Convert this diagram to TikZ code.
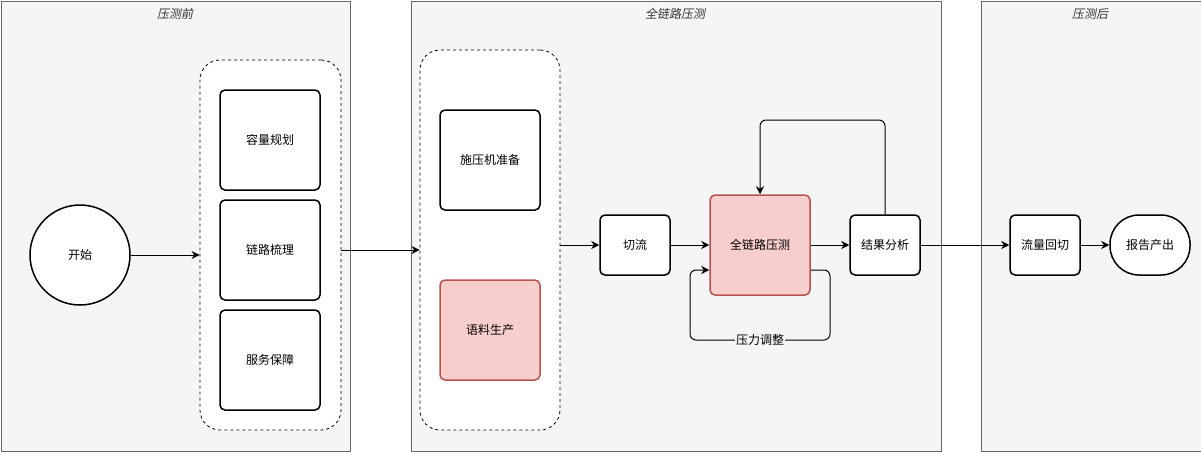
\documentclass[tikz,border=0pt]{standalone}
\usepackage{fontspec}
\setmainfont{Noto Sans CJK SC}
\newfontfamily\titlefont[FakeSlant=0.2]{Noto Sans CJK SC}
\usepackage{xcolor}
\usepackage{tikz}
\usetikzlibrary{arrows.meta,positioning}
\definecolor{lanebg}{HTML}{F5F5F5}
\definecolor{laneline}{HTML}{666666}
\definecolor{titlegray}{HTML}{333333}
\definecolor{redfill}{HTML}{F8CECC}
\definecolor{redline}{HTML}{B85450}
\tikzset{
  ar/.style={-{Stealth[length=8pt,width=8pt,inset=2.5pt]},line width=1pt},
  lane/.style={draw=laneline,fill=lanebg,line width=0.9pt,anchor=north west,inner sep=0pt},
  lanetitle/.style={font=\titlefont\fontsize{12}{14}\selectfont,text=titlegray},
  grp/.style={draw,fill=white,line width=0.8pt,dash pattern=on 3pt off 3pt,rounded corners=20pt,inner sep=0pt},
  task/.style={draw,line width=1.5pt,rounded corners=5pt,fill=white,align=center,inner sep=0pt,font=\fontsize{12}{14}\selectfont},
  redtask/.style={task,draw=redline,fill=redfill}
}

\begin{document}
\begin{tikzpicture}[x=1pt,y=-1pt]
\useasboundingbox (0,0) rectangle (1201,451);
% lanes
\node[lane,minimum width=349.5pt,minimum height=450pt] (pre) at (0.5,0.5) {};
\node[lane,minimum width=530pt,minimum height=450pt] (full) at (410.5,0.5) {};
\node[lane,minimum width=220pt,minimum height=450pt] (post) at (980.5,0.5) {};
\node[lanetitle] (preT) at (175,14) {压测前};
\node[lanetitle] (fullT) at (675,14) {全链路压测};
\node[lanetitle] (postT) at (1090,14) {压测后};

% before
\node[task,circle,minimum size=100pt] (start) at (80,255) {开始};
\node[grp,minimum width=141pt,minimum height=370pt] (grpA) at (270.5,245) {};
\node[task,minimum width=100pt,minimum height=100pt] (plan) at (270,140) {容量规划};
\node[task,minimum width=100pt,minimum height=100pt] (chain) at (270,250) {链路梳理};
\node[task,minimum width=100pt,minimum height=100pt] (guard) at (270,360) {服务保障};

% full link
\node[grp,minimum width=140pt,minimum height=380pt] (grpB) at (490,240) {};
\node[task,minimum width=100pt,minimum height=100pt] (loader) at (490,160) {施压机准备};
\node[redtask,minimum width=100pt,minimum height=100pt] (corpus) at (490,330) {语料生产};
\node[task,minimum width=70pt,minimum height=60pt] (cut) at (635,245) {切流};
\node[redtask,minimum width=100pt,minimum height=100pt] (stress) at (760,245) {全链路压测};
\node[task,minimum width=70pt,minimum height=60pt] (result) at (885,245) {结果分析};

% after
\node[task,minimum width=70pt,minimum height=60pt] (back) at (1045,245) {流量回切};
\node[task,rounded corners=29pt,minimum width=80pt,minimum height=60pt] (report) at (1150,245) {报告产出};

% flow
\draw[ar] (start) -- (start -| grpA.west);
\draw[ar] (grpA.east |- 0,250) -- (grpB.west |- 0,250);
\draw[ar] (grpB.east |- cut) -- (cut);
\draw[ar] (cut) -- (stress);
\draw[ar] (stress) -- (result);
\draw[ar] (result) -- (back);
\draw[ar] (back) -- (report);
\draw[ar,rounded corners=6pt] (result.north) |- (stress.north |- 0,120) -- (stress.north);
\draw[ar,rounded corners=6pt] (stress.east |- 0,270) -| (830,340)
  -- node[fill=lanebg,inner sep=1pt,font=\fontsize{12}{14}\selectfont] (adjust) {压力调整} (690,340)
  |- (stress.west |- 0,270);
\end{tikzpicture}
\end{document}
